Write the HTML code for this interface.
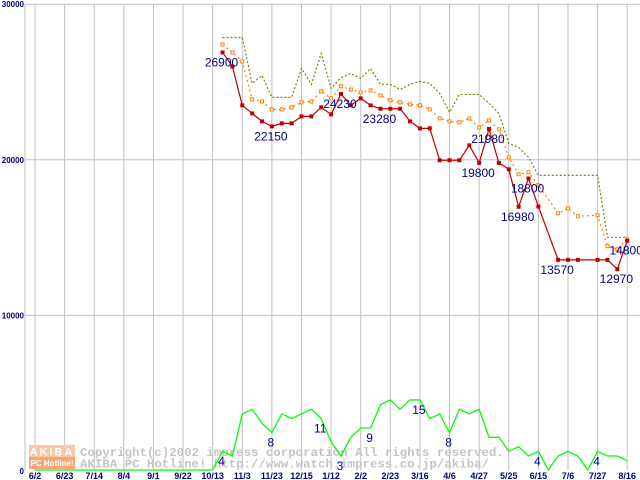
<!DOCTYPE html>
<html><head><meta charset="utf-8"><style>
html,body{margin:0;padding:0;background:#fff;}
svg{display:block;font-family:"Liberation Sans",sans-serif;}
</style></head><body>
<svg id="chart" width="640" height="480" viewBox="0 0 640 480">
<g id="grid"></g>
<g id="wm">
 <rect x="29" y="445" width="46" height="12" fill="#f8c8a8"/>
 <rect x="29" y="457" width="46" height="12" fill="#f4a878"/>
 <text x="52" y="455.5" text-anchor="middle" font-size="11" font-weight="bold" fill="#fff" letter-spacing="2">AKIBA</text>
 <text x="52" y="466" text-anchor="middle" font-size="8" font-weight="bold" fill="#fff">PC Hotline!</text>
 <text x="80" y="456" font-family="Liberation Mono,monospace" font-size="12.4" font-weight="bold" fill="#c4c4c4">Copyright(c)2002 impress corporation All rights reserved.</text>
 <text x="80" y="467.5" font-family="Liberation Mono,monospace" font-size="12.4" font-weight="bold" fill="#c4c4c4">AKIBA PC Hotline! http://www.watch.impress.co.jp/akiba/</text>
</g>
<g id="series"></g>
<g id="labels"></g>
</svg>
<script>
const xLabels=["6/2","6/23","7/14","8/4","9/1","9/22","10/13","11/3","11/23","12/15","1/12","2/2","2/23","3/16","4/6","4/27","5/25","6/15","7/6","7/27","8/16"];
const yTicks=[0,10000,20000,30000];
const startWeek=19;
const minPrice=[26900,26000,23500,22980,22470,22150,22340,22340,22790,22790,23370,22920,24230,23500,23950,23500,23280,23280,23280,22470,22020,22020,19970,19970,19970,20930,19800,21980,19800,19390,16980,18800,17000,null,13570,13570,13570,null,13570,13570,12970,14800];
const avgPrice=[27410,26900,26320,23880,23750,23240,23240,23370,23690,23750,24400,23950,24720,24520,24330,24460,24140,23820,23690,23560,23500,23240,22660,22470,22410,22660,22080,22530,21960,20160,19070,19200,18360,null,16560,16880,16370,null,16440,14450,14250,14890];
const maxPrice=[27860,27860,27860,24910,25420,24010,24010,24010,25870,24850,26840,24590,25290,25550,25230,25870,24850,24850,24520,24850,25040,24910,24270,23050,24200,24200,24200,23630,22980,21060,20800,20160,19000,19000,19000,19000,19000,19000,19000,15020,15020,15020];
const shopCount=[4,3,12,13,10,8,12,11,12,13,11,6,3,7,9,9,14,15,13,15,15,11,12,8,13,12,13,7,7,4,5,3,4,0,3,4,3,0,4,3,3,2];
const priceLabelIdx=[0,5,12,16,26,27,30,31,34,40,41];
const countLabelIdx=[0,5,10,12,15,20,23,32,38];

const NS="http://www.w3.org/2000/svg";
const X=k=>35+k*9.87;
const Y=v=>471-v*0.01556;
const YC=c=>470-c*4.67;
function mk(tag,attrs,parent){const e=document.createElementNS(NS,tag);for(const a in attrs)e.setAttribute(a,attrs[a]);parent.appendChild(e);return e;}
const grid=document.getElementById('grid'),ser=document.getElementById('series'),lab=document.getElementById('labels');

// grid
for(let i=0;i<xLabels.length;i++){
  const x=X(i*3);
  const l=mk('line',{x1:x,x2:x,y1:4,y2:470,stroke:'#c0c0c0','stroke-width':1},grid);
  
  
  const t=mk('text',{x:x,y:479,'text-anchor':'middle','font-size':9,'font-weight':'bold',fill:'#000080'},grid);
  t.textContent=xLabels[i];
  
  
}
yTicks.forEach(v=>{
  const y=Y(v);
  if(v>0){const l=mk('line',{x1:25,x2:640,y1:y,y2:y,stroke:'#c0c0c0','stroke-width':1},grid);
  
  }
  const t=mk('text',{x:24,y:y+3,'text-anchor':'end','font-size':8,'font-weight':'bold',fill:'#000080'},grid);
  t.textContent=String(v);
  
  
});
const ax=mk('line',{x1:25,x2:25,y1:4,y2:471,stroke:'#c0c0c0'},grid);



// count line (green)
let pts=[];
for(let k=0;k<startWeek;k++)pts.push(X(k)+','+YC(0));
shopCount.forEach((c,i)=>pts.push(X(startWeek+i)+','+YC(c)));
const g=mk('polyline',{points:pts.join(' '),fill:'none',stroke:'#00ff00','stroke-width':1.3},ser);



function drawSeries(vals,color,dash,name,marker,hollow){
  let p=[];
  vals.forEach((v,i)=>{if(v!=null)p.push(X(startWeek+i)+','+Y(v));});
  const l=mk('polyline',{points:p.join(' '),fill:'none',stroke:color,'stroke-width':1.2,'stroke-dasharray':dash},ser);
  
  
  if(marker){vals.forEach((v,i)=>{if(v==null)return;
    const r=mk('rect',hollow?{x:X(startWeek+i)-1.5,y:Y(v)-1.5,width:3,height:3,fill:'#fff',stroke:color,'stroke-width':1}:{x:X(startWeek+i)-2,y:Y(v)-2,width:4,height:4,fill:color},ser);
    
    });}
}
drawSeries(maxPrice,'#808000','2,2','max-price',false);
drawSeries(avgPrice,'#ff8000','2,3','avg-price',true,true);
drawSeries(minPrice,'#c00000','none','min-price',true,false);

priceLabelIdx.forEach(i=>{
  const t=mk('text',{x:X(startWeek+i)-1,y:Y(minPrice[i])+14,'text-anchor':'middle','font-size':12,fill:'#000080'},lab);
  t.textContent=String(minPrice[i]);
  
  
});
countLabelIdx.forEach(i=>{
  const t=mk('text',{x:X(startWeek+i)-1,y:YC(shopCount[i])+14,'text-anchor':'middle','font-size':12,fill:'#000080'},lab);
  t.textContent=String(shopCount[i]);
  
  
});
</script>
</body></html>
